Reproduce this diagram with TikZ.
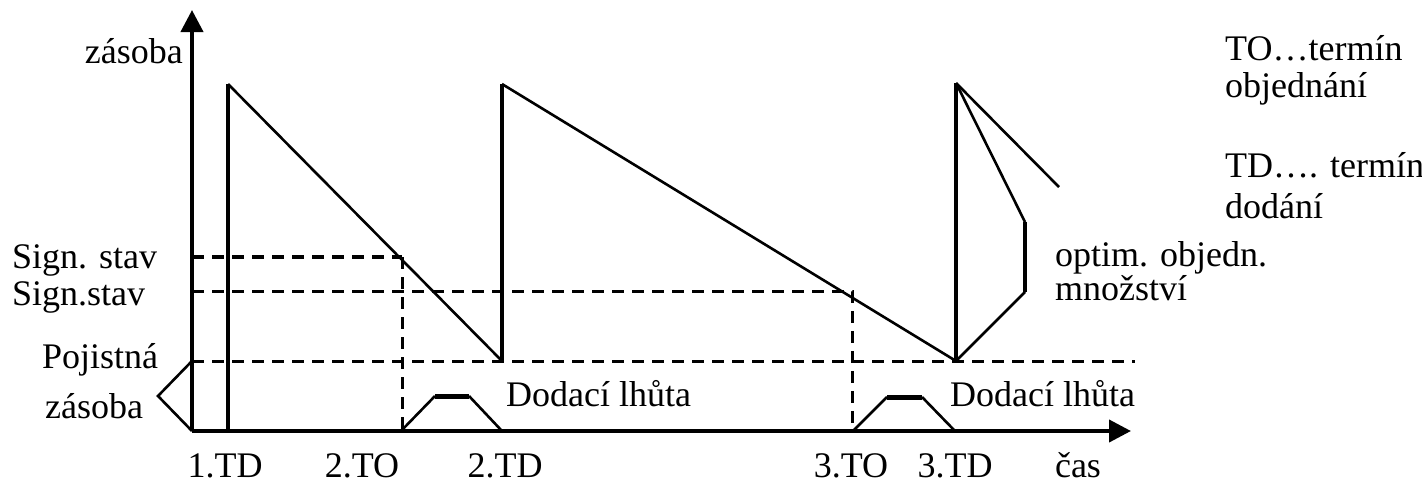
\documentclass[tikz,border=0pt]{standalone}
\usepackage{fontspec}
\setmainfont{Liberation Serif}
\usetikzlibrary{arrows.meta}
\begin{document}
\begin{tikzpicture}[x=1pt,y=-1pt,
  font=\fontsize{36}{42}\selectfont,
  lbl/.style={inner sep=0pt},
  axisline/.style={line width=4pt,-{Triangle[length=22pt,width=22pt]}},
  riseline/.style={line width=3.5pt},
  fallline/.style={line width=2.6pt},
  dashline/.style={line width=3pt,dash pattern=on 12pt off 8pt},
  dashthick/.style={line width=4pt,dash pattern=on 12pt off 8pt},
  toptrap/.style={line width=5pt}]
\useasboundingbox (0,0) rectangle (1422,482);
% coordinates
\coordinate (O) at (192,431);
\coordinate (Ytop) at (192,10);
\coordinate (Xend) at (1131,431);
\coordinate (td1b) at (228,431);
\coordinate (td1t) at (228,84);
\coordinate (td2b) at (502,361);
\coordinate (td2t) at (502,84);
\coordinate (td3b) at (956,361);
\coordinate (td3t) at (956,83);
\coordinate (alt1) at (1059,187);
\coordinate (alt2a) at (1025,222);
\coordinate (alt2b) at (1025,292);
\coordinate (s1L) at (192,257);
\coordinate (s1R) at (402,257);
\coordinate (s1B) at (402,431);
\coordinate (s2L) at (192,291);
\coordinate (s2R) at (852,291);
\coordinate (s2B) at (852,431);
\coordinate (pL) at (192,361);
\coordinate (pR) at (1135,361);
\coordinate (pz) at (158,396);
% axes
\draw[axisline] (O) -- (Ytop);
\draw[axisline] (O) -- (Xend);
% dashed levels
\draw[dashthick] (s1L) -- (s1R);
\draw[dashline] (s1R) -- (s1B);
\draw[dashline] (s2L) -- (s2R) -- (s2B);
\draw[dashline] (pL) -- (pR);
% sawtooth
\draw[riseline] (td1b) -- (td1t);
\draw[fallline] (td1t) -- (td2b);
\draw[riseline] (td2b) -- (td2t);
\draw[fallline] (td2t) -- (td3b);
\draw[riseline] (td3b) -- (td3t);
\draw[fallline] (td3t) -- (alt1);
\draw[fallline] (td3t) -- (alt2a);
\draw[riseline] (alt2a) -- (alt2b);
\draw[fallline] (alt2b) -- (td3b);
% safety stock bracket
\draw[fallline] (pL) -- (pz) -- (O);
% delivery lead time trapezoids
\coordinate (t1a) at (401,431);
\coordinate (t1b) at (435,396);
\coordinate (t1c) at (469,396);
\coordinate (t1d) at (502,431);
\coordinate (t2a) at (853,431);
\coordinate (t2b) at (887,397);
\coordinate (t2c) at (922,397);
\coordinate (t2d) at (955,431);
\draw[fallline] (t1a) -- (t1b);
\draw[toptrap] (t1b) -- (t1c);
\draw[fallline] (t1c) -- (t1d);
\draw[fallline] (t2a) -- (t2b);
\draw[toptrap] (t2b) -- (t2c);
\draw[fallline] (t2c) -- (t2d);
% labels
\node[lbl,anchor=base east] (lzas) at (183,63) {zásoba};
\node[lbl,anchor=base west] (lsig1) at (12,268) {Sign. stav};
\node[lbl,anchor=base west] (lsig2) at (12,305) {Sign.stav};
\node[lbl,anchor=base west] (lpoj1) at (42,368) {Pojistná};
\node[lbl,anchor=base west] (lpoj2) at (45,418) {zásoba};
\node[lbl,anchor=base west] (ldod1) at (506,406) {Dodací lhůta};
\node[lbl,anchor=base west] (ldod2) at (950,406) {Dodací lhůta};
\node[lbl,anchor=base west] (lto1) at (1225,60) {TO…termín};
\node[lbl,anchor=base west] (lto2) at (1225,97) {objednání};
\node[lbl,anchor=base west] (ltd1) at (1225,177) {TD…. termín};
\node[lbl,anchor=base west] (ltd2) at (1225,218) {dodání};
\node[lbl,anchor=base west] (lopt1) at (1055,266) {optim. objedn.};
\node[lbl,anchor=base west] (lopt2) at (1055,300) {množství};
\node[lbl,anchor=base] (x1) at (225,477) {1.TD};
\node[lbl,anchor=base] (x2) at (362,477) {2.TO};
\node[lbl,anchor=base] (x3) at (505,477) {2.TD};
\node[lbl,anchor=base] (x4) at (851,477) {3.TO};
\node[lbl,anchor=base] (x5) at (955,477) {3.TD};
\node[lbl,anchor=base] (x6) at (1078,477) {čas};
\end{tikzpicture}
\end{document}
